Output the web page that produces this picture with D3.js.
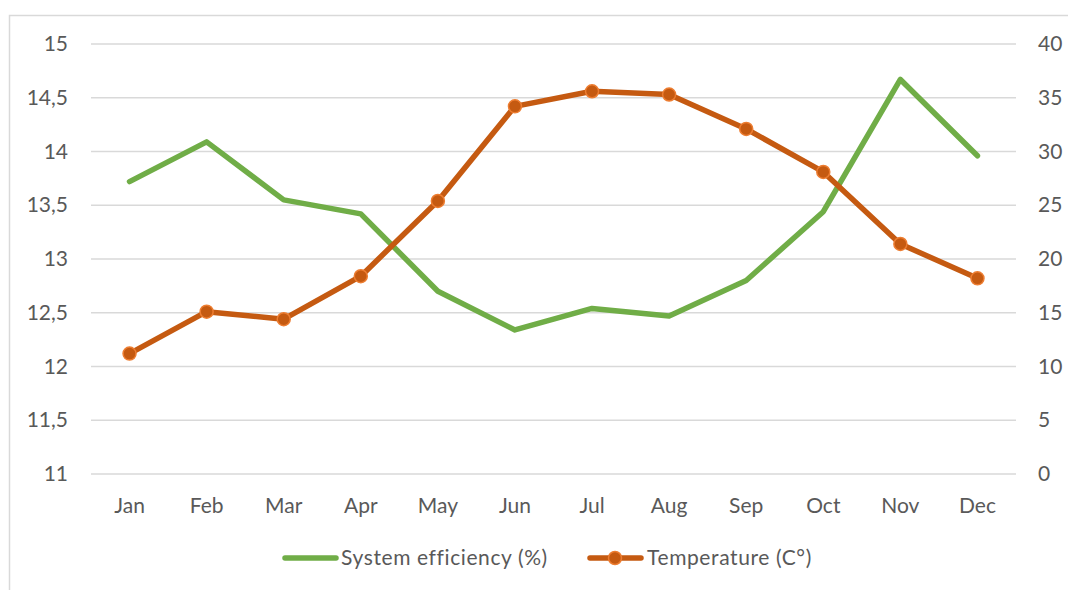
<!DOCTYPE html>
<html>
<head>
<meta charset="utf-8">
<script src="https://cdn.jsdelivr.net/npm/d3@7"></script>
<style>
  html, body { margin: 0; padding: 0; background: #fff; }
  svg { display: block; }
  text { font-family: Lato, "Open Sans", sans-serif; fill: #595959; }
</style>
</head>
<body>
<svg id="chart" width="1068" height="590"></svg>
<script>
// Monthly categories
const months = ["Jan", "Feb", "Mar", "Apr", "May", "Jun", "Jul", "Aug", "Sep", "Oct", "Nov", "Dec"];
// System efficiency (%) on the left axis
const efficiency = [13.72, 14.09, 13.55, 13.42, 12.70, 12.34, 12.54, 12.47, 12.80, 13.44, 14.67, 13.96];
// Temperature (C°) on the right axis
const temperature = [11.2, 15.1, 14.4, 18.4, 25.4, 34.2, 35.6, 35.3, 32.1, 28.1, 21.4, 18.2];
// Axis ticks
const leftTicks = [11, 11.5, 12, 12.5, 13, 13.5, 14, 14.5, 15];
const rightTicks = [0, 5, 10, 15, 20, 25, 30, 35, 40];
const seriesNames = ["System efficiency (%)", "Temperature (C°)"];

const svg = d3.select("#chart");
const green = "#70ad47", orange = "#c55a11", orangeEdge = "#ed7d31";
const fontSize = 21;
const fmt = v => String(v).replace(".", ",");

// outer chart frame
svg.append("rect").attr("x", 9.5).attr("y", 15.5).attr("width", 1080).attr("height", 600)
  .attr("fill", "none").attr("stroke", "#d9d9d9").attr("stroke-width", 1.5);

const plot = { left: 91, right: 1016, top: 44, bottom: 474 };

const x = d3.scaleBand().domain(months).range([plot.left, plot.right]);
const cx = m => x(m) + x.bandwidth() / 2;
const yL = d3.scaleLinear().domain([11, 15]).range([plot.bottom, plot.top]);
const yR = d3.scaleLinear().domain([0, 40]).range([plot.bottom, plot.top]);

// gridlines
svg.append("g").selectAll("line").data(leftTicks).join("line")
  .attr("x1", plot.left).attr("x2", plot.right)
  .attr("y1", d => yL(d)).attr("y2", d => yL(d))
  .attr("stroke", "#d9d9d9").attr("stroke-width", 1.5);

function styleAxis(g) {
  g.select(".domain").remove();
  g.selectAll("text").attr("font-size", fontSize).attr("fill", "#595959")
    .attr("font-family", "Lato, 'Open Sans', sans-serif");
}

// left axis labels
svg.append("g").attr("transform", `translate(${plot.left - 23},0)`)
  .call(d3.axisLeft(yL).tickValues(leftTicks).tickFormat(fmt).tickSize(0).tickPadding(0))
  .call(styleAxis);

// right axis labels
svg.append("g").attr("transform", `translate(${plot.right + 22},0)`)
  .call(d3.axisRight(yR).tickValues(rightTicks).tickSize(0).tickPadding(0))
  .call(styleAxis);

// category labels
svg.append("g").attr("transform", `translate(0,${plot.bottom + 32})`)
  .call(d3.axisBottom(x).tickSize(0).tickPadding(0))
  .call(styleAxis)
  .selectAll("text").attr("dy", "0.35em");

// efficiency line
const lineL = d3.line().x((d, i) => cx(months[i])).y(d => yL(d));
svg.append("path").datum(efficiency).attr("d", lineL)
  .attr("fill", "none").attr("stroke", green).attr("stroke-width", 5.5)
  .attr("stroke-linejoin", "round").attr("stroke-linecap", "round");

// temperature line with markers
const lineR = d3.line().x((d, i) => cx(months[i])).y(d => yR(d));
svg.append("path").datum(temperature).attr("d", lineR)
  .attr("fill", "none").attr("stroke", orange).attr("stroke-width", 5.5)
  .attr("stroke-linejoin", "round").attr("stroke-linecap", "round");
svg.append("g").selectAll("circle").data(temperature).join("circle")
  .attr("cx", (d, i) => cx(months[i])).attr("cy", d => yR(d)).attr("r", 6.5)
  .attr("fill", orange).attr("stroke", orangeEdge).attr("stroke-width", 1.5);

// legend
const lg = svg.append("g").attr("transform", "translate(0,558)");
lg.append("line").attr("x1", 285).attr("x2", 336).attr("y1", 0).attr("y2", 0)
  .attr("stroke", green).attr("stroke-width", 5.5).attr("stroke-linecap", "round");
lg.append("text").attr("x", 341).attr("y", 0).attr("dy", "0.35em").attr("font-size", fontSize)
  .attr("letter-spacing", 0.6).text(seriesNames[0]);
lg.append("line").attr("x1", 590).attr("x2", 641).attr("y1", 0).attr("y2", 0)
  .attr("stroke", orange).attr("stroke-width", 5.5).attr("stroke-linecap", "round");
lg.append("circle").attr("cx", 615).attr("cy", 0).attr("r", 6.5)
  .attr("fill", orange).attr("stroke", orangeEdge).attr("stroke-width", 1.5);
lg.append("text").attr("x", 647).attr("y", 0).attr("dy", "0.35em").attr("font-size", fontSize)
  .attr("letter-spacing", 0.6).text(seriesNames[1]);
</script>
</body>
</html>
